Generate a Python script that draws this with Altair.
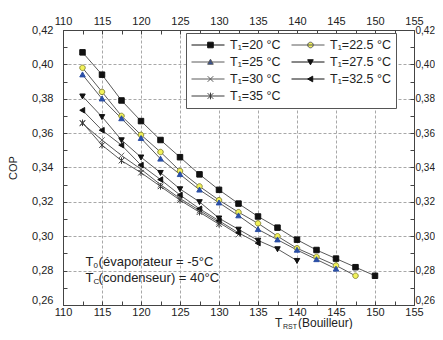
import altair as alt
import pandas as pd

# ---------------- data ----------------
T_GEN = [112.5, 115.0, 117.5, 120.0, 122.5, 125.0, 127.5, 130.0,
         132.5, 135.0, 137.5, 140.0, 142.5, 145.0, 147.5, 150.0]

COP_T20 = [0.407, 0.394, 0.379, 0.367, 0.356, 0.346, 0.336, 0.327,
           0.319, 0.3115, 0.305, 0.298, 0.292, 0.287, 0.282, 0.277]
COP_T225 = [0.398, 0.384, 0.370, 0.359, 0.349, 0.338, 0.329, 0.321,
            0.314, 0.3075, 0.300, 0.293, 0.288, 0.283, 0.277]
COP_T25 = [0.394, 0.380, 0.3685, 0.357, 0.345, 0.336, 0.327, 0.3195,
           0.312, 0.304, 0.298, 0.292, 0.2865, 0.281]
COP_T275 = [0.3815, 0.3695, 0.356, 0.346, 0.337, 0.3275, 0.320, 0.3105,
            0.304, 0.2976, 0.2926, 0.2858]
COP_T30 = [0.3656, 0.356, 0.347, 0.339, 0.330, 0.322, 0.315, 0.308, 0.301]
COP_T325 = [0.3733, 0.3617, 0.353, 0.3414, 0.333, 0.324, 0.316, 0.309,
            0.302, 0.296]
COP_T35 = [0.366, 0.353, 0.344, 0.337, 0.329, 0.321, 0.314, 0.307]

SERIES = ["T₁=20 °C", "T₁=22.5 °C", "T₁=25 °C", "T₁=27.5 °C",
          "T₁=30 °C", "T₁=32.5 °C", "T₁=35 °C"]
SERIES_COP = [COP_T20, COP_T225, COP_T25, COP_T275, COP_T30, COP_T325, COP_T35]

# legend entries fill column by column: (20, 25, 30, 35) then (22.5, 27.5, 32.5)
LEGEND_ORDER = ["T₁=20 °C", "T₁=25 °C", "T₁=30 °C", "T₁=35 °C",
                "T₁=22.5 °C", "T₁=27.5 °C", "T₁=32.5 °C"]

X_TICKS = [110, 112.5, 115, 117.5, 120, 122.5, 125, 127.5, 130, 132.5,
           135, 137.5, 140, 142.5, 145, 147.5, 150, 152.5, 155]
Y_TICKS = [0.26, 0.27, 0.28, 0.29, 0.30, 0.31, 0.32, 0.33, 0.34, 0.35,
           0.36, 0.37, 0.38, 0.39, 0.40, 0.41, 0.42]

ANN_X = [112.9, 112.9]
ANN_Y = [0.2852, 0.2759]
ANN_LEAD = ["T", "T"]
ANN_SUB = ["0", "C"]
ANN_REST = ["(évaporateur = -5°C", "(condenseur) = 40°C"]

# ---------------- styles ----------------
FONT = "Liberation Sans"
LINE_GRAY = "#5a5a5a"


def marker_path(kind, c=0.0, r=1.0):
    """Unit-box marker outline centred at (c, 0) with half-size r."""
    if kind == "square":
        return f"M{c-r:.3f},{-r:.3f}H{c+r:.3f}V{r:.3f}H{c-r:.3f}Z"
    if kind == "circle":
        return (f"M{c+r:.3f},0A{r:.3f},{r:.3f} 0 1,1 {c-r:.3f},0"
                f"A{r:.3f},{r:.3f} 0 1,1 {c+r:.3f},0Z")
    if kind == "up":
        return f"M{c:.3f},{-r:.3f}L{c+r:.3f},{0.8*r:.3f}L{c-r:.3f},{0.8*r:.3f}Z"
    if kind == "down":
        return f"M{c:.3f},{r:.3f}L{c+r:.3f},{-0.8*r:.3f}L{c-r:.3f},{-0.8*r:.3f}Z"
    if kind == "left":
        return f"M{c-r:.3f},0L{c+0.8*r:.3f},{-r:.3f}L{c+0.8*r:.3f},{r:.3f}Z"
    if kind == "x":
        return (f"M{c-r:.3f},{-r:.3f}L{c+r:.3f},{r:.3f}"
                f"M{c+r:.3f},{-r:.3f}L{c-r:.3f},{r:.3f}")
    # asterisk
    return (f"M{c-r:.3f},{-r:.3f}L{c+r:.3f},{r:.3f}"
            f"M{c+r:.3f},{-r:.3f}L{c-r:.3f},{r:.3f}"
            f"M{c:.3f},{-1.2*r:.3f}L{c:.3f},{1.2*r:.3f}")


STYLE = {  # marker kind, fill, stroke
    "T₁=20 °C":   ("square", "#111111", "#111111"),
    "T₁=22.5 °C": ("circle", "#f2f25a", "#8c8c3a"),
    "T₁=25 °C":   ("up", "#2b4fa6", "#2b4fa6"),
    "T₁=27.5 °C": ("down", "#111111", "#111111"),
    "T₁=30 °C":   ("x", "transparent", "#6a6a6a"),
    "T₁=32.5 °C": ("left", "#111111", "#111111"),
    "T₁=35 °C":   ("asterisk", "transparent", "#3a3a3a"),
}
# plot markers
SHAPES = [marker_path(STYLE[s][0]) for s in LEGEND_ORDER]
FILLS = [STYLE[s][1] for s in LEGEND_ORDER]
STROKES = [STYLE[s][2] for s in LEGEND_ORDER]
# legend symbols: a grey line segment with the marker on it
LEG_SHAPES = ["M-1,0H1" + marker_path(STYLE[s][0], 0.15, 0.17)
              for s in LEGEND_ORDER]
LEG_STROKES = ["#111111" if STYLE[s][0] in ("square", "down", "left")
               else ("#3a3a3a" if STYLE[s][0] == "asterisk" else LINE_GRAY)
               for s in LEGEND_ORDER]

rows = []
for name, vals in zip(SERIES, SERIES_COP):
    for t, c in zip(T_GEN, vals):
        rows.append({"series": name, "T": t, "COP": c})
df = pd.DataFrame(rows)

ann = pd.DataFrame({"T": ANN_X, "COP": ANN_Y, "lead": ANN_LEAD,
                    "sub": ANN_SUB, "rest": ANN_REST})

xscale = alt.Scale(domain=[110, 155], nice=False, zero=False)
yscale = alt.Scale(domain=[0.26, 0.42], nice=False, zero=False)

x_major = "datum.value % 5 === 0"
y_major = "round(datum.value * 100) % 2 === 0"
y_label = f"{y_major} ? replace(format(datum.value, '.2f'), '.', ',') : ''"
x_label = f"{x_major} ? format(datum.value, 'd') : ''"
# the lowest y label sits just above the bottom corner (as in the reference)
y_baseline = {"condition": {"test": "datum.value < 0.265", "value": "bottom"},
              "value": "middle"}

common_axis = dict(
    labelFont=FONT, labelColor="#222",
    domainColor="#444", tickColor="#444", tickSize={"expr": "-4"},
    labelOverlap=False, labelBound=False, labelFlush=False,
)

x_bottom = alt.Axis(
    orient="bottom", values=X_TICKS, labelExpr=x_label, title=None,
    grid=True, gridColor="#a8a8a8", gridDash=[3, 2],
    gridOpacity={"condition": {"test": x_major, "value": 1}, "value": 0},
    labelPadding=5, labelFontSize=11, **common_axis)
x_top = alt.Axis(
    orient="top", values=X_TICKS, labelExpr=x_label, title=None,
    grid=False, labelPadding=8, labelFontSize=11, **common_axis)
y_left = alt.Axis(
    orient="left", values=Y_TICKS, labelExpr=y_label, title="COP",
    titleFont=FONT, titleFontSize=11, titleFontWeight="normal",
    titleColor="#222", titlePadding=13, labelBaseline=y_baseline,
    grid=True, gridColor="#a8a8a8", gridDash=[3, 2],
    gridOpacity={"condition": {"test": y_major, "value": 1}, "value": 0},
    labelPadding=14, labelFontSize=11, **common_axis)
y_right = alt.Axis(
    orient="right", values=Y_TICKS, labelExpr=y_label, title=None,
    grid=False, labelPadding=5, labelFontSize=10, labelBaseline=y_baseline,
    **common_axis)

lines = alt.Chart(df).mark_line(strokeWidth=1, color=LINE_GRAY).encode(
    x=alt.X("T:Q", scale=xscale, axis=x_bottom),
    y=alt.Y("COP:Q", scale=yscale, axis=y_left),
    detail="series:N",
    order="T:Q",
)

points = alt.Chart(df).mark_point(filled=True, size=30, opacity=1,
                                  strokeWidth=1).encode(
    x=alt.X("T:Q", scale=xscale, axis=x_top),
    y=alt.Y("COP:Q", scale=yscale, axis=y_right),
    shape=alt.Shape("series:N", scale=alt.Scale(domain=LEGEND_ORDER, range=SHAPES),
                    legend=None),
    fill=alt.Fill("series:N", scale=alt.Scale(domain=LEGEND_ORDER, range=FILLS),
                  legend=None),
    stroke=alt.Stroke("series:N", scale=alt.Scale(domain=LEGEND_ORDER, range=STROKES),
                      legend=None),
)

leg = alt.Legend(
    title=None, orient="none", legendX=123, legendY=3,
    columns=2, columnPadding=10, rowPadding=3, clipHeight=14,
    symbolSize=1089, symbolStrokeWidth=1,
    labelFont=FONT, labelFontSize=12.5, labelColor="#222",
    labelOffset=5, padding=5, strokeColor="#555", fillColor="white")

# legend-only layer (draws no marks, only the legend entries)
legend_layer = alt.Chart(df).transform_filter("false").mark_point(
    filled=True, size=30, opacity=1, strokeWidth=1).encode(
    x=alt.X("T:Q", scale=xscale, axis=None),
    y=alt.Y("COP:Q", scale=yscale, axis=None),
    shape=alt.Shape("series:N",
                    scale=alt.Scale(domain=LEGEND_ORDER, range=LEG_SHAPES),
                    legend=leg),
    fill=alt.Fill("series:N", scale=alt.Scale(domain=LEGEND_ORDER, range=FILLS),
                  legend=leg),
    stroke=alt.Stroke("series:N",
                      scale=alt.Scale(domain=LEGEND_ORDER, range=LEG_STROKES),
                      legend=leg),
)

ax_none_x = alt.X("T:Q", scale=xscale, axis=None)
ax_none_y = alt.Y("COP:Q", scale=yscale, axis=None)

ann_lead = alt.Chart(ann).mark_text(
    align="left", baseline="middle", font=FONT, fontSize=13, color="#222"
).encode(x=ax_none_x, y=ax_none_y, text="lead:N")
ann_sub = alt.Chart(ann).mark_text(
    align="left", baseline="middle", font=FONT, fontSize=8, color="#222",
    dx=8, dy=4).encode(x=ax_none_x, y=ax_none_y, text="sub:N")
ann_rest = alt.Chart(ann).mark_text(
    align="left", baseline="middle", font=FONT, fontSize=13, color="#222",
    dx=13).encode(x=ax_none_x, y=ax_none_y, text="rest:N")

# x-axis title with subscript (placed below the bottom axis)
ttl = pd.DataFrame({"t": ["T"], "s": ["RST"], "r": ["(Bouilleur)"]})
title_t = alt.Chart(ttl).mark_text(
    align="left", baseline="middle", font=FONT, fontSize=12, color="#222"
).encode(x=alt.value(212), y=alt.value(293), text="t:N")
title_s = alt.Chart(ttl).mark_text(
    align="left", baseline="middle", font=FONT, fontSize=7, color="#222"
).encode(x=alt.value(220), y=alt.value(297), text="s:N")
title_r = alt.Chart(ttl).mark_text(
    align="left", baseline="middle", font=FONT, fontSize=12, color="#222"
).encode(x=alt.value(235), y=alt.value(293), text="r:N")

chart = alt.layer(
    lines, points, legend_layer, ann_lead, ann_sub, ann_rest,
    title_t, title_s, title_r
).resolve_axis(x="independent", y="independent").resolve_scale(
    shape="independent", fill="independent", stroke="independent"
).properties(
    width=351, height=275, background="white",
    autosize=alt.AutoSizeParams(type="none"),
    padding={"left": 55, "top": 22, "right": 21, "bottom": 24},
).configure_view(
    stroke="#444", strokeWidth=1
)

chart.save("out.html", embed_options={"renderer": "svg", "actions": False})
